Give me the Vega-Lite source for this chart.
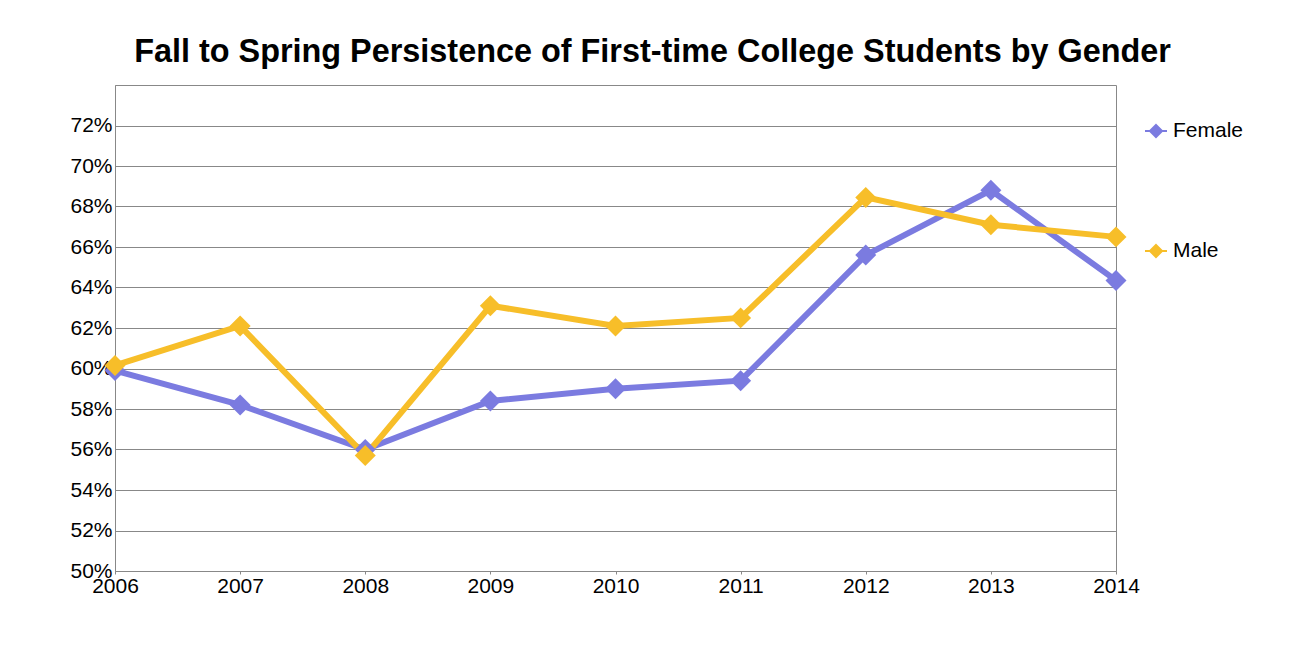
{
  "$schema": "https://vega.github.io/schema/vega-lite/v6.json",
  "autosize": {"type": "none"},
  "width": 1001,
  "height": 486,
  "padding": {"left": 115, "top": 85, "right": 185, "bottom": 88},
  "background": "white",
  "title": {
    "text": "Fall to Spring Persistence of First-time College Students by Gender",
    "font": "Liberation Sans",
    "fontSize": 32.4,
    "fontWeight": "bold",
    "color": "black",
    "anchor": "middle",
    "frame": "group",
    "baseline": "alphabetic",
    "offset": 23,
    "dx": 37,
    "dy": 32
  },
  "data": {
    "values": [
      {"year": 2006, "gender": "Female", "rate": 0.599},
      {"year": 2007, "gender": "Female", "rate": 0.582},
      {"year": 2008, "gender": "Female", "rate": 0.560},
      {"year": 2009, "gender": "Female", "rate": 0.584},
      {"year": 2010, "gender": "Female", "rate": 0.590},
      {"year": 2011, "gender": "Female", "rate": 0.594},
      {"year": 2012, "gender": "Female", "rate": 0.656},
      {"year": 2013, "gender": "Female", "rate": 0.688},
      {"year": 2014, "gender": "Female", "rate": 0.6435},
      {"year": 2006, "gender": "Male", "rate": 0.6015},
      {"year": 2007, "gender": "Male", "rate": 0.621},
      {"year": 2008, "gender": "Male", "rate": 0.557},
      {"year": 2009, "gender": "Male", "rate": 0.631},
      {"year": 2010, "gender": "Male", "rate": 0.621},
      {"year": 2011, "gender": "Male", "rate": 0.625},
      {"year": 2012, "gender": "Male", "rate": 0.6845},
      {"year": 2013, "gender": "Male", "rate": 0.671},
      {"year": 2014, "gender": "Male", "rate": 0.665}
    ]
  },
  "mark": {
    "type": "line",
    "strokeWidth": 6,
    "point": {"shape": "diamond", "size": 440, "filled": true, "opacity": 1}
  },
  "encoding": {
    "x": {
      "field": "year",
      "type": "quantitative",
      "scale": {"domain": [2006, 2014], "nice": false, "zero": false},
      "axis": {
        "title": null,
        "values": [2006, 2007, 2008, 2009, 2010, 2011, 2012, 2013, 2014],
        "format": "d",
        "grid": false,
        "tickSize": 3,
        "tickColor": "#888888",
        "domainColor": "#888888",
        "labelPadding": 1,
        "labelFont": "Liberation Sans",
        "labelFontSize": 21,
        "labelColor": "black",
        "labelOverlap": false,
        "labelFlush": false
      }
    },
    "y": {
      "field": "rate",
      "type": "quantitative",
      "scale": {"domain": [0.5, 0.74], "nice": false, "zero": false},
      "axis": {
        "title": null,
        "values": [0.5, 0.52, 0.54, 0.56, 0.58, 0.6, 0.62, 0.64, 0.66, 0.68, 0.7, 0.72],
        "format": ".0%",
        "grid": true,
        "gridColor": "#888888",
        "gridWidth": 1,
        "gridOpacity": 1,
        "tickSize": 0,
        "domainColor": "#888888",
        "labelPadding": 3,
        "labelFont": "Liberation Sans",
        "labelFontSize": 21,
        "labelColor": "black",
        "labelOverlap": false,
        "labelFlush": false
      }
    },
    "color": {
      "field": "gender",
      "type": "nominal",
      "scale": {"domain": ["Female", "Male"], "range": ["#7B7BE0", "#F7BE29"]},
      "legend": {
        "title": null,
        "orient": "none",
        "legendX": 1029,
        "legendY": 34,
        "rowPadding": 97,
        "symbolType": "M-1,0H1M0,-0.55L0.55,0L0,0.55L-0.55,0Z",
        "symbolSize": 484,
        "symbolStrokeWidth": 2,
        "labelOffset": 5,
        "labelFont": "Liberation Sans",
        "labelFontSize": 21,
        "labelColor": "black",
        "encode": {
          "symbols": {
            "update": {
              "fill": {"scale": "color", "field": "value"},
              "stroke": {"scale": "color", "field": "value"},
              "strokeWidth": {"value": 2},
              "opacity": {"value": 1}
            }
          }
        }
      }
    }
  },
  "config": {
    "view": {"stroke": "#888888", "strokeWidth": 1}
  }
}
